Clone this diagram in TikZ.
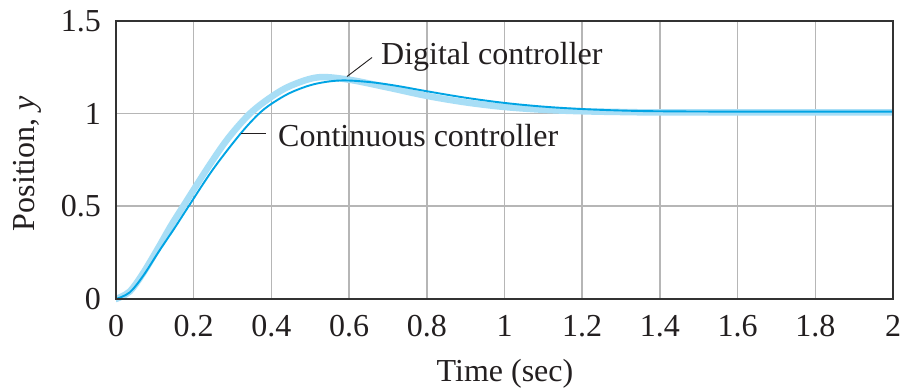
\documentclass[tikz,border=0pt]{standalone}
\usepackage{fontspec}
\setmainfont{Liberation Serif}
\definecolor{gridc}{RGB}{182,182,182}
\definecolor{framec}{RGB}{50,50,50}
\definecolor{digc}{RGB}{168,222,246}
\definecolor{conc}{RGB}{0,164,228}
\definecolor{txtc}{RGB}{35,31,32}
\begin{document}
\begin{tikzpicture}[x=1pt,y=1pt,
  lbl/.style={font=\fontsize{32}{38}\selectfont, text=txtc, inner sep=0pt},
  gridline/.style={draw=gridc, line width=1.5pt},
  axisframe/.style={draw=framec, line width=2pt},
  leader/.style={draw=txtc, line width=0.9pt},
  digcurve/.style={draw=digc, line width=6.5pt, line cap=round, line join=round},
  concurve/.style={draw=conc, line width=1.9pt, line cap=round, line join=round}]
\useasboundingbox[fill=white] (0,0) rectangle (903,391);
\begin{scope}[shift={(116pt,92pt)}, x=388.5pt, y=185.5pt]
  % grid
  \foreach \t in {0.2,0.4,...,1.81} \draw[gridline] (\t,0) -- (\t,1.5);
  \foreach \v in {0.5,1} \draw[gridline] (0,\v) -- (2,\v);
  \begin{scope}
  \clip (0,-0.02) rectangle (2,1.5);
  % digital controller (thick light)
  \draw[digcurve] plot[smooth, tension=0.55] coordinates {
    (0,0) (0.035,0.04) (0.07,0.14) (0.11,0.28) (0.14,0.39) (0.173,0.5)
    (0.24,0.72) (0.29,0.87) (0.345,1.0) (0.4,1.09) (0.45,1.15) (0.52,1.195)
    (0.6,1.182) (0.7,1.14) (0.8,1.095) (0.9,1.06) (1.0,1.035) (1.1,1.02)
    (1.2,1.012) (1.3,1.008) (1.4,1.006) (1.7,1.006) (2,1.006)};
  % continuous controller (thin)
  \draw[concurve] plot[smooth, tension=0.55] coordinates {
    (0,0) (0.035,0.035) (0.07,0.125) (0.11,0.255) (0.15,0.38) (0.187,0.5)
    (0.25,0.70) (0.32,0.89) (0.366,0.995) (0.4,1.052) (0.45,1.113) (0.51,1.158)
    (0.577,1.178) (0.65,1.17) (0.72,1.15) (0.8,1.12) (0.9,1.085) (1.0,1.057)
    (1.1,1.037) (1.2,1.024) (1.3,1.016) (1.4,1.012) (1.6,1.01) (1.8,1.01) (2,1.01)};
  \end{scope}
  % frame
  \draw[axisframe] (0,0) rectangle (2,1.5);
  % tick labels
  \foreach \t/\s in {0/0,0.2/0.2,0.4/0.4,0.6/0.6,0.8/0.8,1/1,1.2/1.2,1.4/1.4,1.6/1.6,1.8/1.8,2/2}
    \node[lbl, anchor=north] (xt\s) at ([yshift=-16pt]\t,0) {\s};
  \foreach \v/\s in {0/0,0.5/0.5,1/1,1.5/1.5}
    \node[lbl, anchor=east] (yt\s) at ([xshift=-15pt]0,\v) {\s};
\end{scope}
% axis titles
\node[lbl, anchor=base] (xlabel) at (505,9.5) {Time (sec)};
\node[lbl, anchor=base, rotate=90] (ylabel) at (35,227.5) {Position, \textit{y}};
% curve labels
\node[lbl, anchor=base west] (diglabel) at (381,326.7) {Digital controller};
\node[lbl, anchor=base west] (conlabel) at (278,244.3) {Continuous controller};
\coordinate (digpt) at (347,314.5);
\coordinate (digend) at (372,333.5);
\coordinate (conpt) at (241,258);
\coordinate (conend) at (266,258);
\draw[leader] (digpt) -- (digend);
\draw[leader] (conpt) -- (conend);
\end{tikzpicture}
\end{document}
